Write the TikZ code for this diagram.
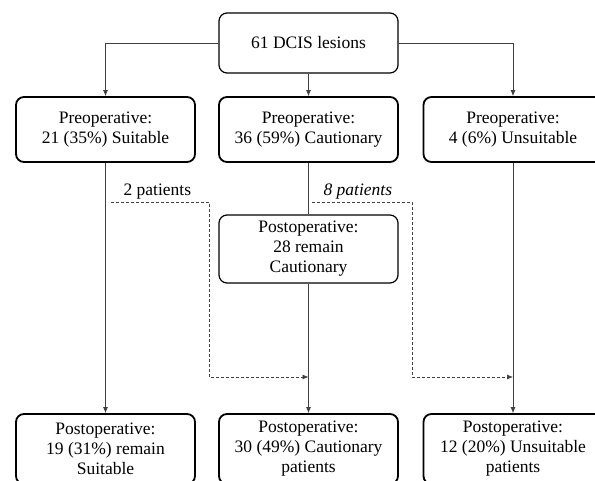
\documentclass[tikz,border=0pt]{standalone}
\usepackage{fontspec}
\setmainfont{Liberation Serif}
\usepackage{tikz}
\usetikzlibrary{arrows}
\usetikzlibrary{arrows.meta}
\usetikzlibrary{calc}
\tikzstyle{box} = [draw, rounded corners=8pt, line width=1.8pt, minimum width=179pt, align=center, inner sep=0pt]
\tikzstyle{thinbox} = [box, line width=1.2pt]
\tikzstyle{flow} = [draw, line width=0.7pt, color=black!75, -{Latex[length=6pt, width=5pt]}]
\tikzstyle{moved} = [flow, dash pattern=on 3pt off 2pt]

\begin{document}
\begin{tikzpicture}[x=1pt, y=-1pt, font=\fontsize{17.5}{20}\selectfont]
	\useasboundingbox[fill=white] (0,0) rectangle (595,480);

	\node[thinbox, minimum height=60pt] (lesions) at (308.5, 43) {61 DCIS lesions} ;

	\node[box, minimum height=65pt] (preS) at (105.5, 129.5) {Preoperative:\\21 (35\%) Suitable} ;
	\node[box, minimum height=65pt] (preC) at (308.5, 129.5) {Preoperative:\\36 (59\%) Cautionary} ;
	\node[box, minimum height=65pt] (preU) at (513, 129.5) {Preoperative:\\4 (6\%) Unsuitable} ;

	\node[thinbox, minimum height=68pt] (postC) at (308.5, 249) {Postoperative:\\28 remain\\Cautionary} ;

	\node[box, minimum height=70pt] (endS) at (105.5, 449) {Postoperative:\\19 (31\%) remain\\Suitable} ;
	\node[box, minimum height=70pt] (endC) at (308.5, 449) {Postoperative:\\30 (49\%) Cautionary\\patients} ;
	\node[box, minimum height=70pt] (endU) at (513, 449) {Postoperative:\\12 (20\%) Unsuitable\\patients} ;

	\draw[flow] (lesions.west) -| (preS.north) ;
	\draw[flow] (lesions.south) -- (preC.north) ;
	\draw[flow] (lesions.east) -| (preU.north) ;

	\draw[flow] (preS.south) -- (endS.north) ;
	\draw[flow, -] (preC.south) -- (postC.north) ;
	\draw[flow] (postC.south) -- (endC.north) ;
	\draw[flow] (preU.south) -- (endU.north) ;

	% patients who changed group
	\coordinate (fromS) at (111, 202) ;
	\coordinate (turnS) at (209, 377) ;
	\coordinate (fromC) at (312, 202) ;
	\coordinate (turnC) at (412, 377) ;

	\draw[moved] (fromS) -| (turnS) -- (turnS -| endC.north) ;
	\draw[moved] (fromC) -| (turnC) -- (turnC -| endU.north) ;

	\node[anchor=base west] (twoS) at (120, 195) {2 patients} ;
	\node[anchor=base west] (eightC) at (320, 195) {\textit{8 patients}} ;
\end{tikzpicture}
\end{document}
